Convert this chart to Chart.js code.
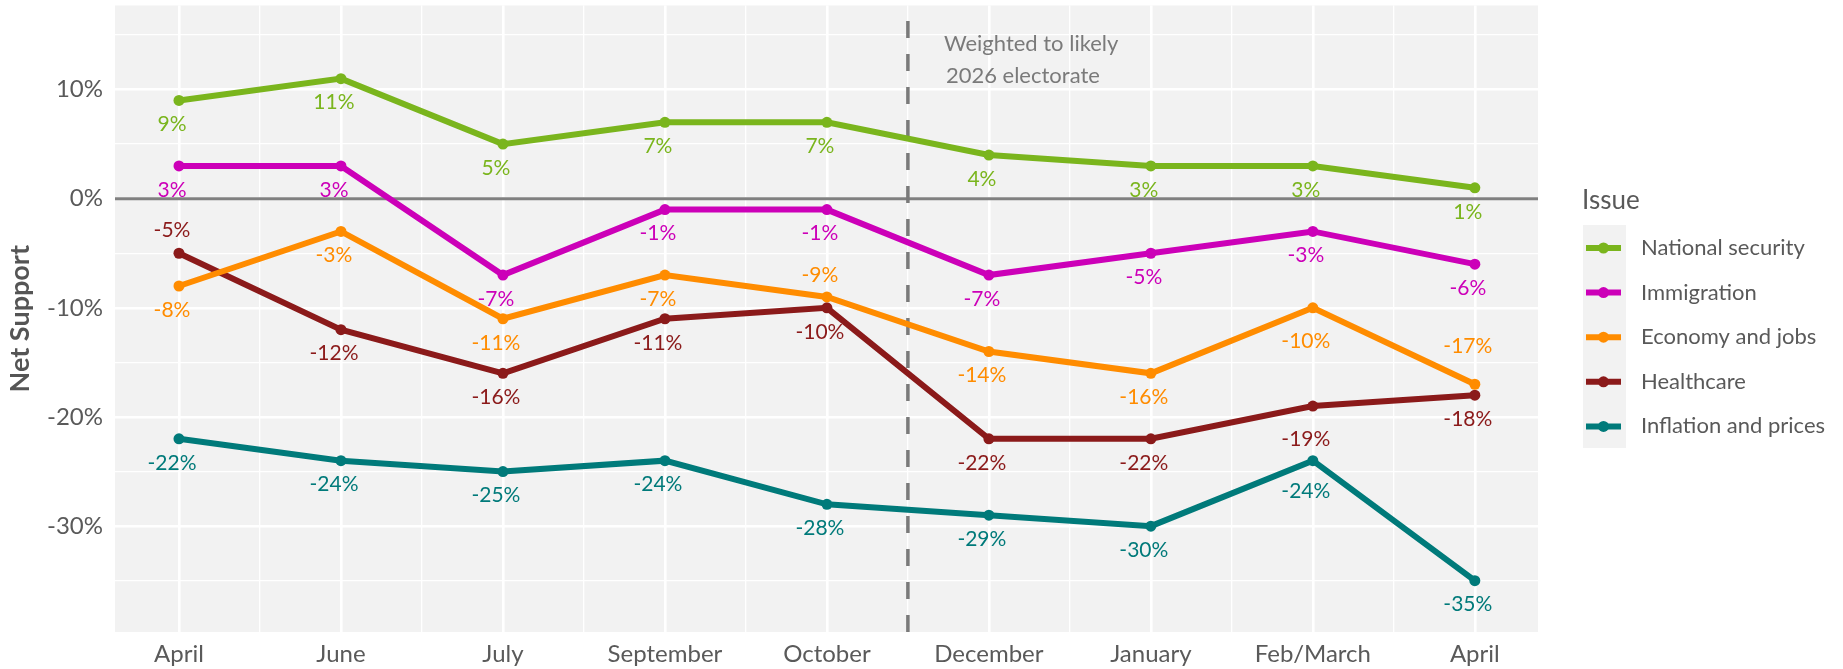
<!DOCTYPE html>
<html><head><meta charset="utf-8">
<script src="https://cdn.jsdelivr.net/npm/chart.js@4.4.1/dist/chart.umd.min.js"></script>
<style>html,body{margin:0;padding:0;background:#fff;}canvas{display:block;}</style>
</head><body>
<canvas id="c" width="1843" height="669"></canvas>
<script>
const categories = ['April','June','July','September','October','December','January','Feb/March','April'];
const seriesNames = ['National security','Immigration','Economy and jobs','Healthcare','Inflation and prices'];
const nationalSecurity = [9,11,5,7,7,4,3,3,1];
const immigration = [3,3,-7,-1,-1,-7,-5,-3,-6];
const economyJobs = [-8,-3,-11,-7,-9,-14,-16,-10,-17];
const healthcare = [-5,-12,-16,-11,-10,-22,-22,-19,-18];
const inflationPrices = [-22,-24,-25,-24,-28,-29,-30,-24,-35];
const yTickValues = [10,0,-10,-20,-30];
const annotationLines = ['Weighted to likely','2026 electorate'];
const legendTitle = 'Issue';
const yAxisTitle = 'Net Support';

const seriesValues = [nationalSecurity, immigration, economyJobs, healthcare, inflationPrices];
const seriesColors = ['#7AB51D','#CC00B8','#FF8C00','#8B1A1A','#007A7A'];
const FONT = 'Lato';

// label vertical nudges (px) for specific points; default is below the point
const labelNudge = {
  '2-4': -22, '2-8': -38, '3-0': -23,
  '2-7': 33, '3-7': 33, '4-7': 31
};

const bgPlugin = {
  id: 'bg',
  beforeDraw(chart) {
    const {ctx, chartArea: a} = chart;
    ctx.save();
    ctx.fillStyle = '#fff';
    ctx.fillRect(0, 0, chart.width, chart.height);
    ctx.fillStyle = '#F2F2F2';
    ctx.fillRect(a.left, a.top, a.right - a.left, a.bottom - a.top);
    ctx.restore();
  },
  beforeDatasetsDraw(chart) {
    const {ctx, chartArea: a, scales} = chart;
    const y0 = scales.y.getPixelForValue(0);
    ctx.save();
    ctx.strokeStyle = '#808080';
    ctx.lineWidth = 3;
    ctx.beginPath();
    ctx.moveTo(a.left, y0); ctx.lineTo(a.right, y0);
    ctx.stroke();
    const xv = scales.x.getPixelForValue(4.5);
    ctx.strokeStyle = '#7A7A7A';
    ctx.lineWidth = 3.5;
    ctx.setLineDash([17, 16]);
    ctx.beginPath();
    ctx.moveTo(xv, a.bottom); ctx.lineTo(xv, a.top);
    ctx.stroke();
    ctx.setLineDash([]);
    ctx.fillStyle = '#7A7A7A';
    ctx.font = '22px ' + FONT;
    ctx.textAlign = 'left';
    ctx.textBaseline = 'middle';
    ctx.fillText(annotationLines[0], xv + 36, a.top + 38);
    ctx.fillText(annotationLines[1], xv + 38, a.top + 70);
    ctx.restore();
  }
};

const labelPlugin = {
  id: 'valueLabels',
  afterDatasetsDraw(chart) {
    const {ctx} = chart;
    ctx.save();
    ctx.font = '21px ' + FONT;
    ctx.textAlign = 'center';
    ctx.textBaseline = 'middle';
    chart.data.datasets.forEach((ds, di) => {
      const meta = chart.getDatasetMeta(di);
      meta.data.forEach((pt, i) => {
        const v = seriesValues[di][i];
        const key = di + '-' + i;
        const dy = key in labelNudge ? labelNudge[key] : 24;
        ctx.fillStyle = seriesColors[di];
        ctx.fillText(v + '%', pt.x - 7, pt.y + dy);
      });
    });
    ctx.restore();
  }
};

const legendPlugin = {
  id: 'sideLegend',
  afterDraw(chart) {
    const {ctx} = chart;
    ctx.save();
    ctx.fillStyle = '#595959';
    ctx.font = '26px ' + FONT;
    ctx.textAlign = 'left';
    ctx.textBaseline = 'middle';
    ctx.fillText(legendTitle, 1582, 201);
    ctx.fillStyle = '#F2F2F2';
    ctx.fillRect(1583, 225, 43, 223);
    seriesNames.forEach((name, i) => {
      const y = 248 + i * 44.6;
      ctx.strokeStyle = seriesColors[i];
      ctx.lineWidth = 6;
      ctx.beginPath(); ctx.moveTo(1586, y); ctx.lineTo(1621, y); ctx.stroke();
      ctx.fillStyle = seriesColors[i];
      ctx.beginPath(); ctx.arc(1603.5, y, 5.5, 0, Math.PI * 2); ctx.fill();
      ctx.fillStyle = '#595959';
      ctx.font = '22px ' + FONT;
      ctx.fillText(name, 1641, y);
    });
    ctx.restore();
  }
};

new Chart(document.getElementById('c'), {
  type: 'line',
  data: {
    datasets: seriesNames.map((name, di) => ({
      label: name,
      data: seriesValues[di].map((v, i) => ({x: i, y: v})),
      borderColor: seriesColors[di],
      backgroundColor: seriesColors[di],
      borderWidth: 6,
      pointRadius: 5.5,
      pointHoverRadius: 5.5,
      pointBorderWidth: 0,
      tension: 0,
      fill: false
    }))
  },
  options: {
    responsive: false,
    animation: false,
    events: [],
    layout: {padding: {top: 3, right: 305, left: 0, bottom: 0}},
    plugins: {legend: {display: false}, tooltip: {enabled: false}},
    scales: {
      x: {
        type: 'linear', min: -0.395, max: 8.39,
        afterBuildTicks: s => { const t = []; for (let i = 0; i <= 16; i++) t.push({value: i / 2}); s.ticks = t; },
        afterFit: s => { s.height = 37; s.paddingLeft = 0; s.paddingRight = 0; s.paddingTop = 0; s.paddingBottom = 0; },
        grid: {color: '#ffffff', lineWidth: c => (c.tick && Number.isInteger(c.tick.value)) ? 2.6 : 1.3, drawTicks: false},
        border: {display: false},
        ticks: {
          autoSkip: false, maxRotation: 0, padding: 8,
          callback: v => Number.isInteger(v) ? categories[v] : '',
          font: {family: FONT, size: 24}, color: '#5A5A5A'
        }
      },
      y: {
        min: -39.7, max: 17.7,
        afterBuildTicks: s => { s.ticks = [-35,-30,-25,-20,-15,-10,-5,0,5,10,15].map(v => ({value: v})); },
        afterFit: s => { s.width = 115; s.paddingTop = 0; s.paddingBottom = 0; s.paddingLeft = 0; s.paddingRight = 0; },
        grid: {color: '#ffffff', lineWidth: c => (c.tick && c.tick.value % 10 === 0) ? 2.6 : 1.3, drawTicks: false},
        border: {display: false},
        ticks: {
          padding: 12,
          callback: v => yTickValues.includes(v) ? v + '%' : '',
          font: {family: FONT, size: 24}, color: '#5A5A5A'
        },
        title: {display: true, text: yAxisTitle, font: {family: FONT, size: 27, weight: 'bold'}, color: '#555555', padding: {top: 4, bottom: 0}}
      }
    }
  },
  plugins: [bgPlugin, labelPlugin, legendPlugin]
});
</script>
</body></html>
